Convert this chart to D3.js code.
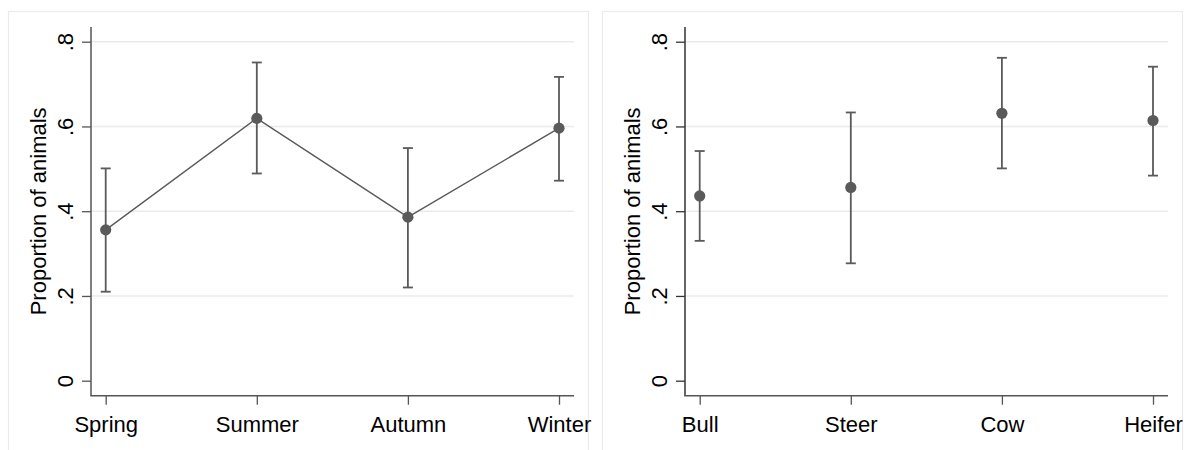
<!DOCTYPE html>
<html>
<head>
<meta charset="utf-8">
<script src="https://cdn.jsdelivr.net/npm/d3@7"></script>
<style>
  html, body { margin: 0; padding: 0; background: #fff; }
  svg { display: block; font-family: "Liberation Sans", Arial, sans-serif; }
</style>
</head>
<body>
<svg id="chart" width="1184" height="450"></svg>
<script>
// Proportion of animals by season
const seasons = ["Spring", "Summer", "Autumn", "Winter"];
const seasonEst = [0.356, 0.619, 0.386, 0.596];
const seasonLo  = [0.210, 0.489, 0.220, 0.472];
const seasonHi  = [0.501, 0.751, 0.549, 0.717];

// Proportion of animals by animal class
const classes = ["Bull", "Steer", "Cow", "Heifer"];
const classEst = [0.436, 0.456, 0.631, 0.614];
const classLo  = [0.330, 0.277, 0.501, 0.484];
const classHi  = [0.542, 0.633, 0.762, 0.741];

const yTicks = [0, 0.2, 0.4, 0.6, 0.8];
const yTickLabels = ["0", ".2", ".4", ".6", ".8"];
const yTitle = "Proportion of animals";

const svg = d3.select("#chart");
const markColor = "#5a5a5a";

function drawPanel(left, cats, est, lo, hi, connect, yAxisColor) {
  const g = svg.append("g").attr("transform", `translate(${left},0)`);

  // outer graph frame
  g.append("rect")
    .attr("x", 0.5).attr("y", 11.5)
    .attr("width", 580).attr("height", 460)
    .attr("fill", "none").attr("stroke", "#ebebeb").attr("stroke-width", 1.2);

  const axisX = 83, axisEnd = 566;
  const y = d3.scaleLinear().domain([0, 0.8]).range([380.7, 41.7]);
  const x = d3.scalePoint().domain(cats).range([97.7, 551]);
  const yBottom = y(-0.0355), yTop = y(0.8347);

  // horizontal grid lines
  g.append("g").selectAll("line")
    .data(yTicks.filter(d => d > 0))
    .join("line")
    .attr("x1", axisX).attr("x2", axisEnd)
    .attr("y1", d => y(d)).attr("y2", d => y(d))
    .attr("stroke", "#ebebeb").attr("stroke-width", 1.5);

  // y axis
  const yAxis = g.append("g")
    .attr("transform", `translate(${axisX},0)`)
    .call(d3.axisLeft(y).tickValues(yTicks)
      .tickFormat((d, i) => yTickLabels[i]).tickSize(9).tickSizeOuter(0));
  yAxis.select(".domain").remove();
  yAxis.selectAll(".tick line").attr("stroke", yAxisColor).attr("stroke-width", 1.3);
  yAxis.selectAll(".tick text")
    .attr("x", null).attr("dy", null).attr("y", null)
    .attr("transform", "translate(-18.5,0) rotate(-90)")
    .attr("text-anchor", "middle")
    .attr("fill", "#000").attr("font-size", 22)
    .attr("font-family", "Liberation Sans, Arial, sans-serif");
  g.append("line")
    .attr("x1", axisX).attr("x2", axisX)
    .attr("y1", yTop).attr("y2", yBottom)
    .attr("stroke", yAxisColor).attr("stroke-width", 1.5);

  // x axis
  const xAxis = g.append("g")
    .attr("transform", `translate(0,${yBottom})`)
    .call(d3.axisBottom(x).tickSize(9).tickSizeOuter(0));
  xAxis.select(".domain").remove();
  xAxis.selectAll(".tick line").attr("stroke", "#555").attr("stroke-width", 1.3);
  xAxis.selectAll(".tick text")
    .attr("y", 36.3).attr("dy", null)
    .attr("fill", "#000").attr("font-size", 22)
    .attr("font-family", "Liberation Sans, Arial, sans-serif");
  g.append("line")
    .attr("x1", axisX - 0.75).attr("x2", axisEnd)
    .attr("y1", yBottom).attr("y2", yBottom)
    .attr("stroke", "#555").attr("stroke-width", 1.5);

  // y axis title
  g.append("text")
    .attr("transform", `translate(37.5,${(yTop + yBottom) / 2}) rotate(-90)`)
    .attr("text-anchor", "middle")
    .attr("font-size", 22).attr("fill", "#000")
    .text(yTitle);

  const rows = cats.map((c, i) => ({ c, est: est[i], lo: lo[i], hi: hi[i] }));

  // connecting line
  if (connect) {
    g.append("path")
      .datum(rows)
      .attr("d", d3.line().x(d => x(d.c)).y(d => y(d.est)))
      .attr("fill", "none").attr("stroke", markColor).attr("stroke-width", 1.4);
  }

  // confidence intervals with caps
  const ci = g.append("g").attr("stroke", markColor).attr("stroke-width", 1.8);
  ci.selectAll("line.v").data(rows).join("line").attr("class", "v")
    .attr("x1", d => x(d.c)).attr("x2", d => x(d.c))
    .attr("y1", d => y(d.lo)).attr("y2", d => y(d.hi));
  ci.selectAll("line.hi").data(rows).join("line").attr("class", "hi")
    .attr("x1", d => x(d.c) - 5).attr("x2", d => x(d.c) + 5)
    .attr("y1", d => y(d.hi)).attr("y2", d => y(d.hi));
  ci.selectAll("line.lo").data(rows).join("line").attr("class", "lo")
    .attr("x1", d => x(d.c) - 5).attr("x2", d => x(d.c) + 5)
    .attr("y1", d => y(d.lo)).attr("y2", d => y(d.lo));

  // point estimates
  g.append("g").selectAll("circle").data(rows).join("circle")
    .attr("cx", d => x(d.c)).attr("cy", d => y(d.est))
    .attr("r", 5.6).attr("fill", markColor);
}

drawPanel(8, seasons, seasonEst, seasonLo, seasonHi, true, "#555");
drawPanel(602, classes, classEst, classLo, classHi, false, "#333");
</script>
</body>
</html>
